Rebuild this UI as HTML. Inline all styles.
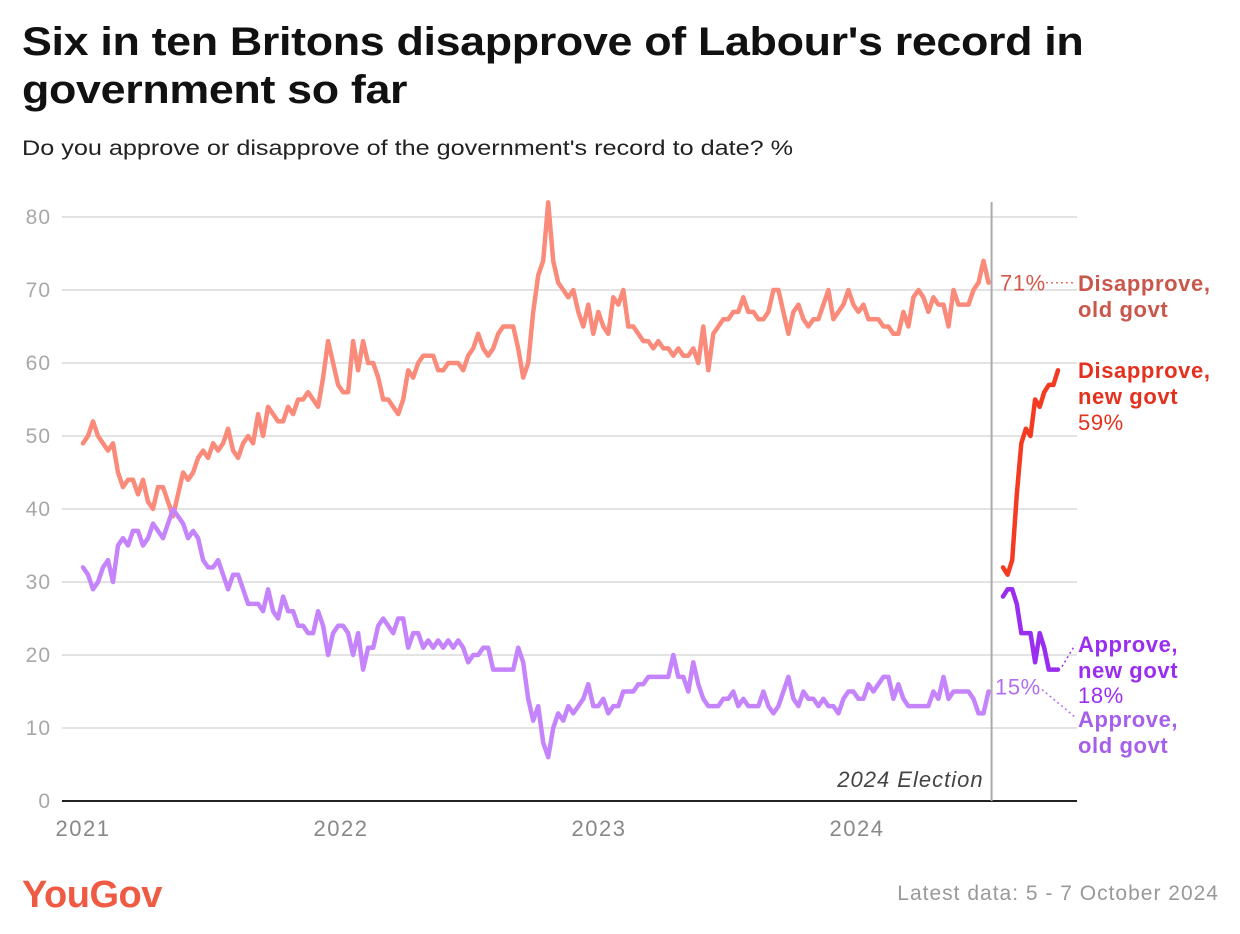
<!DOCTYPE html>
<html><head><meta charset="utf-8">
<style>
body{margin:0;background:#fff;width:1240px;height:934px;overflow:hidden;font-family:"Liberation Sans",sans-serif;}
#title{position:absolute;left:22px;top:18px;font-size:40px;font-weight:bold;line-height:48px;color:#111;letter-spacing:-0.3px;transform:scaleX(1.12);transform-origin:0 0;white-space:nowrap;}
#sub{position:absolute;left:22px;top:137px;font-size:21px;color:#222;transform:scaleX(1.2);transform-origin:0 0;white-space:nowrap;}
svg{position:absolute;left:0;top:0;}
</style></head><body>
<div id="title">Six in ten Britons disapprove of Labour's record in<br>government so far</div>
<div id="sub">Do you approve or disapprove of the government's record to date? %</div>
<svg id="chart" width="1240" height="934"></svg>
<script>
const yTicks=[0,10,20,30,40,50,60,70,80];
const xTicks=[2021,2022,2023,2024];
const oldStart=2021.0, oldStep=0.01939;
const newStart=2024.566, newStep=0.01775;
const disapproveOld=[49,50,52,50,49,48,49,45,43,44,44,42,44,41,40,43,43,41,39,42,45,44,45,47,48,47,49,48,49,51,48,47,49,50,49,53,50,54,53,52,52,54,53,55,55,56,55,54,58,63,60,57,56,56,63,59,63,60,60,58,55,55,54,53,55,59,58,60,61,61,61,59,59,60,60,60,59,61,62,64,62,61,62,64,65,65,65,62,58,60,67,72,74,82,74,71,70,69,70,67,65,68,64,67,65,64,69,68,70,65,65,64,63,63,62,63,62,62,61,62,61,61,62,60,65,59,64,65,66,66,67,67,69,67,67,66,66,67,70,70,67,64,67,68,66,65,66,66,68,70,66,67,68,70,68,67,68,66,66,66,65,65,64,64,67,65,69,70,69,67,69,68,68,65,70,68,68,68,70,71,74,71];
const approveOld=[32,31,29,30,32,33,30,35,36,35,37,37,35,36,38,37,36,38,40,39,38,36,37,36,33,32,32,33,31,29,31,31,29,27,27,27,26,29,26,25,28,26,26,24,24,23,23,26,24,20,23,24,24,23,20,23,18,21,21,24,25,24,23,25,25,21,23,23,21,22,21,22,21,22,21,22,21,19,20,20,21,21,18,18,18,18,18,21,19,14,11,13,8,6,10,12,11,13,12,13,14,16,13,13,14,12,13,13,15,15,15,16,16,17,17,17,17,17,20,17,17,15,19,16,14,13,13,13,14,14,15,13,14,13,13,13,15,13,12,13,15,17,14,13,15,14,14,13,14,13,13,12,14,15,15,14,14,16,15,16,17,17,14,16,14,13,13,13,13,13,15,14,17,14,15,15,15,15,14,12,12,15];
const disapproveNew=[32,31,33,42,49,51,50,55,54,56,57,57,59];
const approveNew=[28,29,29,27,23,23,23,19,23,21,18,18,18];
const electionDate=2024.51;

const NS="http://www.w3.org/2000/svg";
const svg=document.getElementById('chart');
const X=t=>83+(t-2021)*258;
const Y=v=>801-v*7.3;
function mk(tag,attrs,txt){const e=document.createElementNS(NS,tag);for(const k in attrs)e.setAttribute(k,attrs[k]);if(txt!==undefined)e.textContent=txt;svg.appendChild(e);return e;}

yTicks.forEach(v=>{
  if(v>0){const g=mk('line',{x1:62,x2:1077,y1:Y(v),y2:Y(v),stroke:'#e3e3e3','stroke-width':2});
  
  }
  const t=mk('text',{x:51,y:Y(v)+7,'text-anchor':'end','font-size':21,'letter-spacing':1,fill:'#a8a8a8'},v);
  
  
});
const ax=mk('line',{x1:62,x2:1077,y1:801,y2:801,stroke:'#222','stroke-width':2});


xTicks.forEach(y=>{
  const t=mk('text',{x:X(y),y:836,'text-anchor':'middle','font-size':22,'letter-spacing':1.5,fill:'#888'},y);
  
  
});
const el=mk('line',{x1:X(electionDate)+3,x2:X(electionDate)+3,y1:202,y2:801,stroke:'#aaa','stroke-width':2});


const elt=mk('text',{x:X(electionDate)-5,y:787,'text-anchor':'end','font-size':22,'letter-spacing':1,'font-style':'italic',fill:'#444'},'2024 Election');



function series(vals,start,step,color,name){
  const d=vals.map((v,i)=>(i?'L':'M')+X(start+i*step).toFixed(1)+','+Y(v).toFixed(1)).join('');
  const p=mk('path',{d:d,fill:'none',stroke:color,'stroke-width':4.5,'stroke-linejoin':'round','stroke-linecap':'round'});
  
  
}
series(disapproveOld,oldStart,oldStep,'#fa8a7a','disapprove-old-line');
series(approveOld,oldStart,oldStep,'#c584fb','approve-old-line');
series(disapproveNew,newStart,newStep,'#f43b22','disapprove-new-line');
series(approveNew,newStart,newStep,'#9a2ef0','approve-new-line');

function lab(x,y,txt,col,bold,name,anchor){
  const t=mk('text',{x:x,y:y,'font-size':22,'letter-spacing':0.6,fill:col,'font-weight':bold?'bold':'normal','text-anchor':anchor||'start'},txt);
  
  
}
const dOldLast=disapproveOld[disapproveOld.length-1], aOldLast=approveOld[approveOld.length-1];
const dNewLast=disapproveNew[disapproveNew.length-1], aNewLast=approveNew[approveNew.length-1];
lab(1000,Y(dOldLast)+8,dOldLast+'%','#d5584a',false,'disapprove-old-value');
lab(995,Y(aOldLast)+3,aOldLast+'%','#b36ef0',false,'approve-old-value');
function dots(x1,y1,x2,y2,c,n){const l=mk('line',{x1:x1,y1:y1,x2:x2,y2:y2,stroke:c,'stroke-width':1.5,'stroke-dasharray':'2,3'});

}
dots(1046,Y(dOldLast),1074,Y(dOldLast),'#e0766a','disapprove-old-leader');
dots(1042,Y(aOldLast)-2,1075,717,'#b36ef0','approve-old-leader');
dots(X(newStart+12*newStep)+4,Y(aNewLast)-3,1075,645,'#9a2ef0','approve-new-leader');
lab(1078,291,'Disapprove,','#c9574b',true,'disapprove-old-label');
lab(1078,317,'old govt','#c9574b',true,'disapprove-old-label-2');
lab(1078,378,'Disapprove,','#e5301e',true,'disapprove-new-label');
lab(1078,404,'new govt','#e5301e',true,'disapprove-new-label-2');
lab(1078,430,dNewLast+'%','#e5301e',false,'disapprove-new-value');
lab(1078,652,'Approve,','#9a2ef0',true,'approve-new-label');
lab(1078,678,'new govt','#9a2ef0',true,'approve-new-label-2');
lab(1078,703,aNewLast+'%','#9a2ef0',false,'approve-new-value');
lab(1078,727,'Approve,','#a560ea',true,'approve-old-label');
lab(1078,753,'old govt','#a560ea',true,'approve-old-label-2');

const logo=mk('text',{x:22,y:907,'font-size':38,'font-weight':'bold',fill:'#ef5a42','letter-spacing':'-0.5'},'YouGov');


const ld=mk('text',{x:1219,y:900,'font-size':21,'letter-spacing':1,fill:'#999','text-anchor':'end'},'Latest data: 5 - 7 October 2024');


</script>
</body></html>
